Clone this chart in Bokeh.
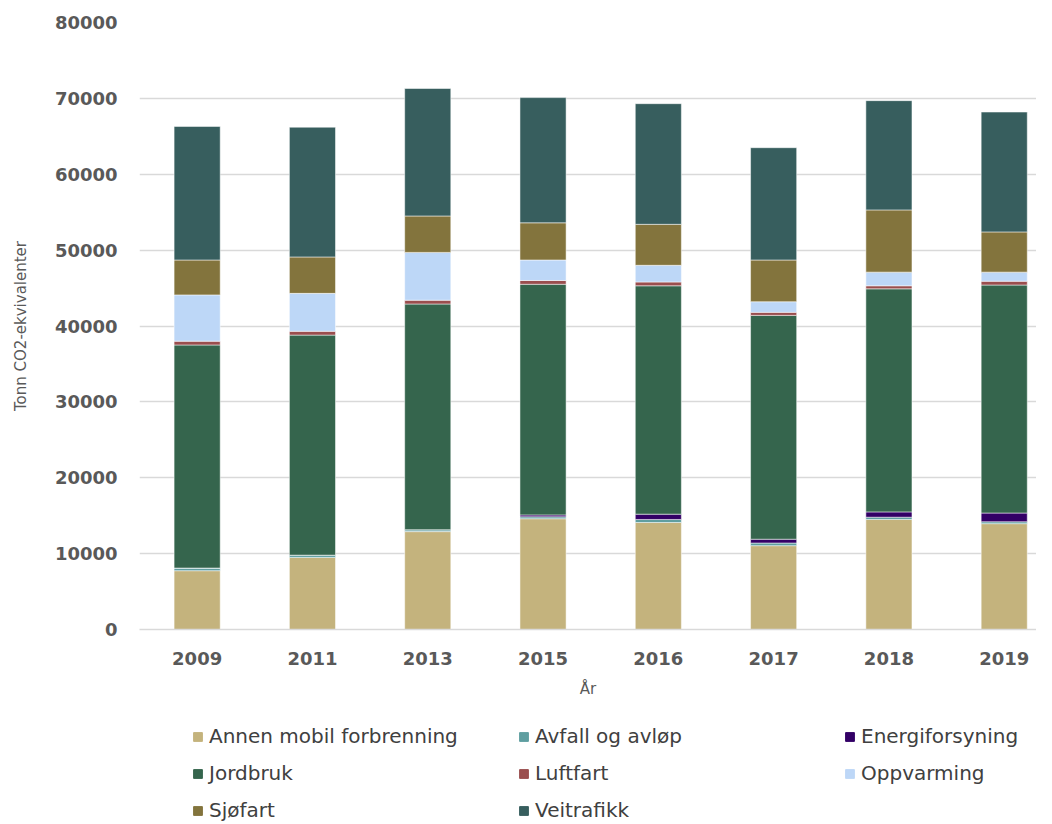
from bokeh.plotting import figure
from bokeh.models import ColumnDataSource, Range1d, FixedTicker, Legend, LegendItem
from bokeh.layouts import column
from bokeh.embed import file_html
from bokeh.resources import INLINE

years = ["2009", "2011", "2013", "2015", "2016", "2017", "2018", "2019"]
annen_mobil = [7750, 9500, 12900, 14600, 14100, 11050, 14500, 13950]
avfall = [350, 300, 250, 250, 400, 350, 300, 250]
energiforsyning = [0, 0, 0, 250, 700, 500, 700, 1150]
jordbruk = [29400, 29000, 29750, 30400, 30100, 29500, 29400, 30050]
luftfart = [500, 500, 500, 500, 500, 400, 400, 500]
oppvarming = [6100, 5000, 6300, 2700, 2200, 1400, 1800, 1200]
sjofart = [4600, 4800, 4800, 4900, 5400, 5500, 8200, 5300]
veitrafikk = [17600, 17100, 16800, 16500, 15900, 14800, 14400, 15800]

series_names = ["Annen mobil forbrenning", "Avfall og avløp", "Energiforsyning", "Jordbruk",
                "Luftfart", "Oppvarming", "Sjøfart", "Veitrafikk"]
series_keys = ["annen", "avfall", "energi", "jord", "luft", "opp", "sjo", "veit"]
series_vals = [annen_mobil, avfall, energiforsyning, jordbruk, luftfart, oppvarming, sjofart, veitrafikk]
colors = ["#C4B37D", "#5F9EA0", "#330066", "#35654D", "#9A4E4E", "#BDD7F7", "#83743D", "#375E5E"]

xpos = list(range(1, len(years) + 1))
data = {"x": xpos}
for k, v in zip(series_keys, series_vals):
    data[k] = v
source = ColumnDataSource(data)

p = figure(width=1036, height=700, output_backend="svg", toolbar_location=None,
           x_range=Range1d(0.5, 8.28), y_range=Range1d(0, 80000),
           min_border_left=139, min_border_right=0, min_border_top=22, min_border_bottom=70)

renderers = p.vbar_stack(series_keys, x="x", width=0.4, source=source, color=colors,
                         line_color="white", line_alpha=0.5, line_width=1)

p.outline_line_color = None
p.background_fill_color = "white"
p.xgrid.grid_line_color = None
p.ygrid.grid_line_color = "#D9D9D9"
p.ygrid.grid_line_width = 1.3

p.yaxis.ticker = FixedTicker(ticks=list(range(0, 80001, 10000)))
p.xaxis.ticker = FixedTicker(ticks=xpos)
p.xaxis.major_label_overrides = {i: y for i, y in zip(xpos, years)}

for ax in (p.xaxis[0], p.yaxis[0]):
    ax.major_tick_line_color = None
    ax.minor_tick_line_color = None
    ax.major_label_text_font = "DejaVu Sans"
    ax.major_label_text_font_style = "bold"
    ax.major_label_text_font_size = "18px"
    ax.major_label_text_color = "#595959"
    ax.axis_label_text_font = "DejaVu Sans"
    ax.axis_label_text_font_style = "normal"
    ax.axis_label_text_font_size = "15px"
    ax.axis_label_text_color = "#595959"

p.yaxis.axis_line_color = None
p.yaxis.major_label_standoff = 16
p.yaxis.axis_label = "Tonn CO2-ekvivalenter"
p.yaxis.axis_label_standoff = 22
p.xaxis.axis_line_color = "#D9D9D9"
p.xaxis.axis_line_width = 1.3
p.xaxis.major_label_standoff = 16
p.xaxis.axis_label = "År"
p.xaxis.axis_label_standoff = 12

# legend figure below the chart
LH = 122
p2 = figure(width=1036, height=LH, output_backend="svg", toolbar_location=None,
            x_range=Range1d(0, 1036), y_range=Range1d(0, LH),
            x_axis_location=None, y_axis_location=None,
            min_border_left=0, min_border_right=0, min_border_top=0, min_border_bottom=0)
p2.outline_line_color = None
p2.xgrid.grid_line_color = None
p2.ygrid.grid_line_color = None
nan = float("nan")
proxies = [p2.vbar(x=[nan], top=[nan], width=1, fill_color=c, line_color=c) for c in colors]

items = [LegendItem(label=n, renderers=[r]) for n, r in zip(series_names, proxies)]
lg = Legend(items=items, orientation="horizontal", ncols=3, location=(53, 0),
            label_text_font="DejaVu Sans", label_text_font_size="20px",
            label_text_color="#404040", glyph_width=11, glyph_height=11,
            label_standoff=6, spacing=13, padding=0, margin=0,
            label_height=22, label_width=296,
            border_line_color=None, background_fill_alpha=0)
p2.add_layout(lg, "center")

open("out.html", "w").write(file_html(column(p, p2, spacing=0), INLINE))
